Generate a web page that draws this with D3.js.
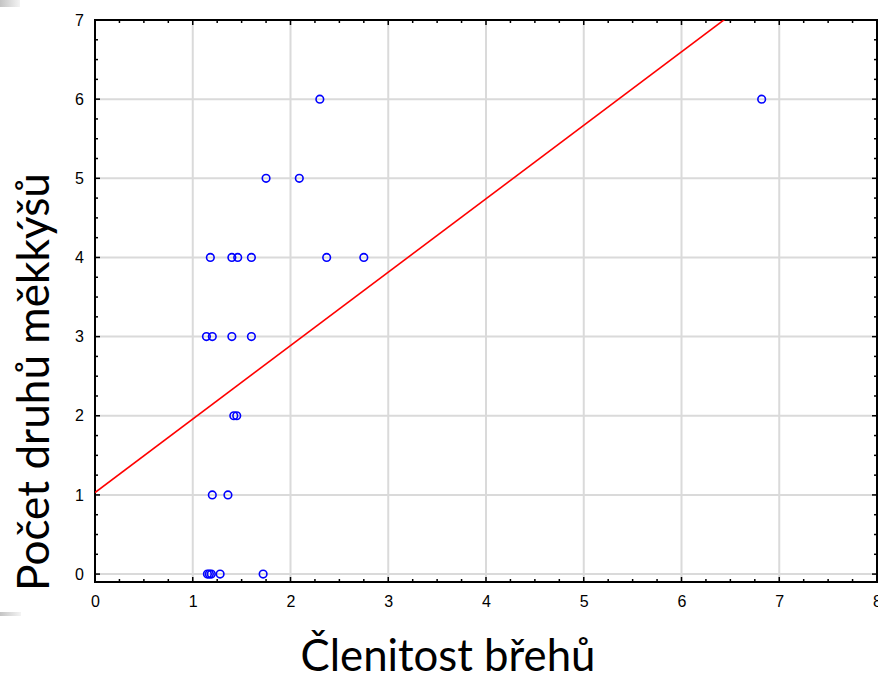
<!DOCTYPE html>
<html>
<head>
<meta charset="utf-8">
<script src="https://cdn.jsdelivr.net/npm/d3@7"></script>
<style>
  html, body { margin: 0; padding: 0; background: #fff; }
  svg { display: block; }
</style>
</head>
<body>
<svg id="chart" width="878" height="675"></svg>
<script>
// ---- data ----
const xTickLabels = ["0","1","2","3","4","5","6","7","8"];
const yTickLabels = ["0","1","2","3","4","5","6","7"];
const clenitost = [2.30, 6.82, 1.75, 2.09, 1.18, 1.40, 1.46, 1.60, 2.37, 2.75,
                   1.14, 1.20, 1.40, 1.60, 1.42, 1.45, 1.20, 1.36,
                   1.15, 1.17, 1.19, 1.28, 1.72];
const pocetDruhu = [6, 6, 5, 5, 4, 4, 4, 4, 4, 4,
                    3, 3, 3, 3, 2, 2, 1, 1,
                    0, 0, 0, 0, 0];
const fitIntercept = 1.03;
const fitSlope = 0.928;
const xTitle = "Členitost břehů";
const yTitle = "Počet druhů měkkýšů";

// ---- layout ----
const svg = d3.select("#chart");
const L = 95, R = 877, T = 20, B = 582;
const x = d3.scaleLinear().domain([0, 8]).range([L, R]);
const y = d3.scaleLinear().domain([-0.1, 7]).range([B, T]);

// slide artifacts
const defs = svg.append("defs");
const grad = defs.append("linearGradient").attr("id", "g1");
grad.append("stop").attr("offset", "0%").attr("stop-color", "#c4c4c4");
grad.append("stop").attr("offset", "100%").attr("stop-color", "#f4f4f4");
svg.append("rect").attr("x", 0).attr("y", 0).attr("width", 20).attr("height", 7).attr("fill", "url(#g1)");
svg.append("rect").attr("x", 0).attr("y", 612).attr("width", 21).attr("height", 4).attr("fill", "url(#g1)");

defs.append("clipPath").attr("id", "clip")
  .append("rect").attr("x", L).attr("y", T).attr("width", R - L).attr("height", B - T);

// gridlines
const xMajor = xTickLabels.map(Number);
const yMajor = yTickLabels.map(Number);
svg.append("g").selectAll("line").data(xMajor.filter(v => v > 0 && v < 8)).join("line")
  .attr("x1", d => x(d)).attr("x2", d => x(d)).attr("y1", T).attr("y2", B)
  .attr("stroke", "#dadada").attr("stroke-width", 2);
svg.append("g").selectAll("line").data(yMajor.filter(v => v < 7)).join("line")
  .attr("y1", d => y(d)).attr("y2", d => y(d)).attr("x1", L).attr("x2", R)
  .attr("stroke", "#dadada").attr("stroke-width", 2);

// minor/major inward ticks on four sides
const xMinor = d3.range(0, 8.001, 0.25);
const yMinor = d3.range(0, 7.001, 0.25);
function isMajor(v) { return Math.abs(v - Math.round(v)) < 1e-6; }
const tg = svg.append("g").attr("stroke", "#000").attr("stroke-width", 1.5);
xMinor.forEach(v => {
  const len = isMajor(v) ? 5 : 3;
  tg.append("line").attr("x1", x(v)).attr("x2", x(v)).attr("y1", B).attr("y2", B - len);
  tg.append("line").attr("x1", x(v)).attr("x2", x(v)).attr("y1", T).attr("y2", T + len);
});
yMinor.forEach(v => {
  const len = isMajor(v) ? 5 : 3;
  tg.append("line").attr("y1", y(v)).attr("y2", y(v)).attr("x1", L).attr("x2", L + len);
  tg.append("line").attr("y1", y(v)).attr("y2", y(v)).attr("x1", R).attr("x2", R - len);
});

// frame
svg.append("rect").attr("x", L).attr("y", T).attr("width", R - L).attr("height", B - T)
  .attr("fill", "none").attr("stroke", "#000").attr("stroke-width", 2);

// axes labels via d3 axes (no lines)
const xAxis = svg.append("g").attr("transform", `translate(0,${B})`)
  .call(d3.axisBottom(x).tickValues(xMajor).tickFormat((d, i) => xTickLabels[i]).tickSize(0).tickPadding(14));
const yAxis = svg.append("g").attr("transform", `translate(${L},0)`)
  .call(d3.axisLeft(y).tickValues(yMajor).tickFormat((d, i) => yTickLabels[i]).tickSize(0).tickPadding(11));
[xAxis, yAxis].forEach(a => {
  a.select(".domain").remove();
  a.selectAll("text").attr("font-family", "'Liberation Sans', Arial, sans-serif")
    .attr("font-size", 16).attr("fill", "#000");
});

// regression line
svg.append("line").attr("clip-path", "url(#clip)")
  .attr("x1", x(0)).attr("y1", y(fitIntercept))
  .attr("x2", x(8)).attr("y2", y(fitIntercept + fitSlope * 8))
  .attr("stroke", "#ff0000").attr("stroke-width", 1.6);

// points
svg.append("g").selectAll("circle").data(clenitost.map((v, i) => [v, pocetDruhu[i]])).join("circle")
  .attr("cx", d => x(d[0])).attr("cy", d => y(d[1])).attr("r", 3.8)
  .attr("fill", "none").attr("stroke", "#0000ff").attr("stroke-width", 1.6);

// titles, fitted to reference widths
function fitText(sel, target) {
  const w = sel.node().getComputedTextLength();
  const fs = parseFloat(sel.attr("font-size"));
  sel.attr("font-size", fs * target / w);
}
const xt = svg.append("text").text(xTitle)
  .attr("x", 448).attr("y", 671).attr("text-anchor", "middle")
  .attr("font-family", "Lato, 'Open Sans', sans-serif").attr("font-size", 40).attr("fill", "#000");
fitText(xt, 295);
const yt = svg.append("text").text(yTitle)
  .attr("transform", "translate(49,382) rotate(-90)").attr("text-anchor", "middle")
  .attr("font-family", "Lato, 'Open Sans', sans-serif").attr("font-size", 40).attr("fill", "#000");
fitText(yt, 418);
</script>
</body>
</html>
